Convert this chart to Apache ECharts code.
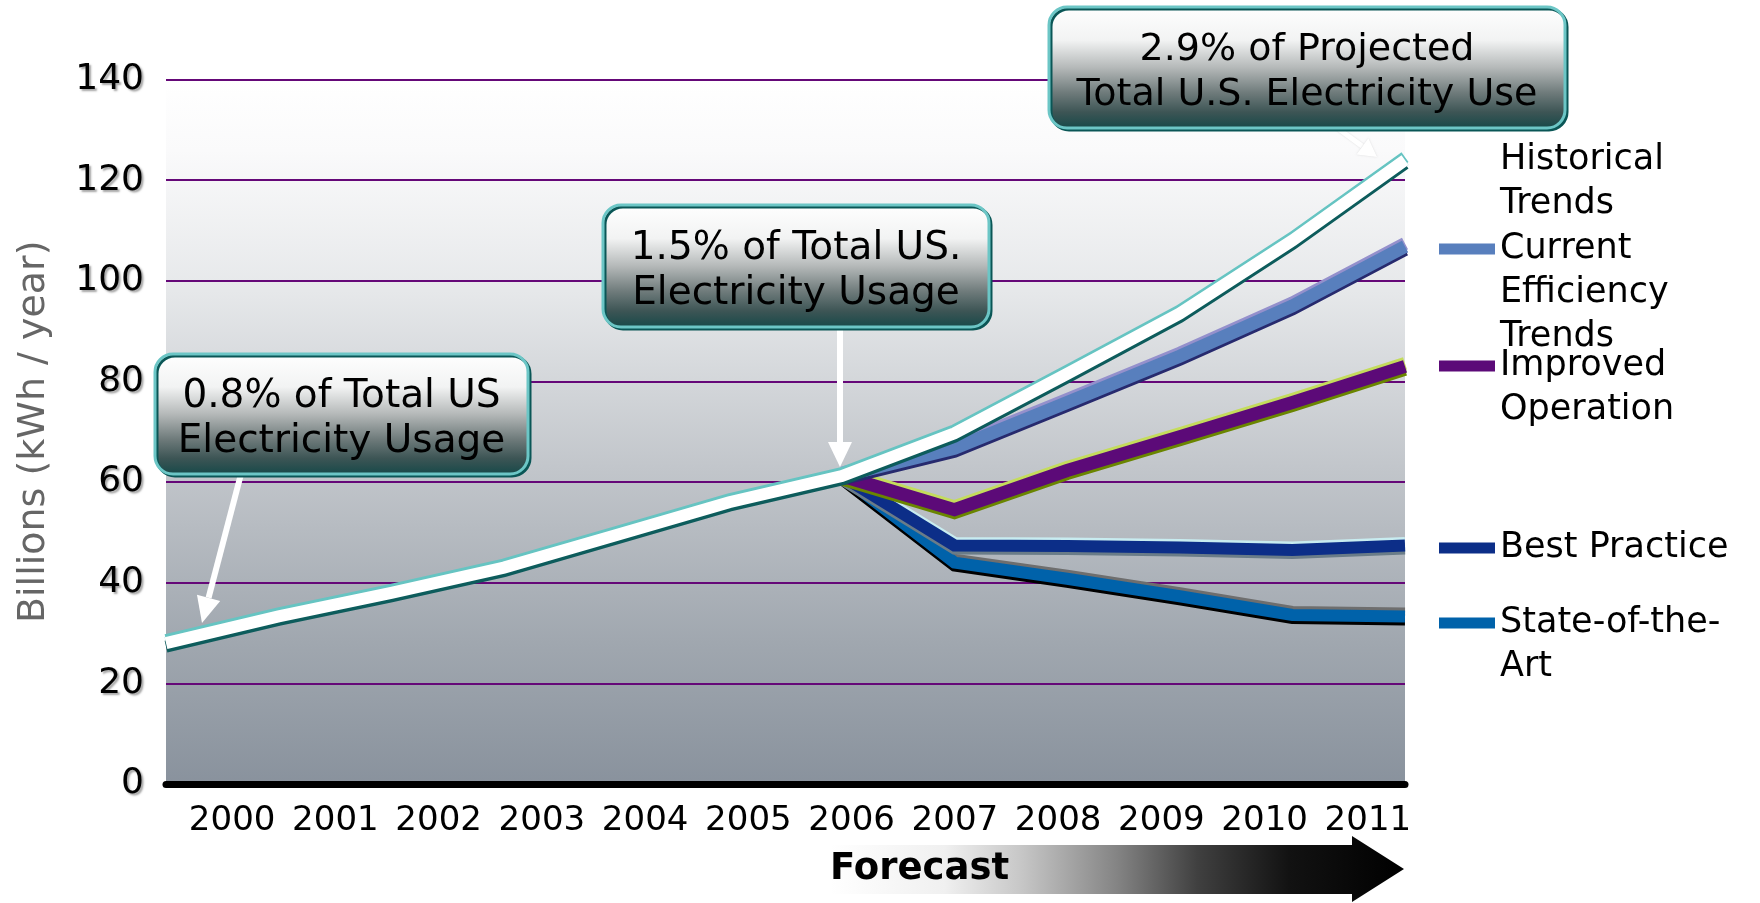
<!DOCTYPE html>
<html><head><meta charset="utf-8">
<script src="https://cdn.jsdelivr.net/npm/echarts@6/dist/echarts.min.js"></script>
<style>html,body{margin:0;padding:0;background:#fff;}#c{width:1760px;height:903px;}</style>
</head><body><div id="c"></div>
<script>
// ---- data ----
const years = ['2000','2001','2002','2003','2004','2005','2006','2007','2008','2009','2010','2011'];
const yTicks = [0, 20, 40, 60, 80, 100, 120, 140];
const historical = [28.0, 33.3, 38.0, 43.0, 49.5, 56.0, 61.2, 69.7, 81.5, 93.5, 108.0, 124.0];
const currentEff = [null, null, null, null, null, null, 61.2, 66.7, 75.8, 85.0, 95.0, 106.8];
const improvedOp = [null, null, null, null, null, null, 61.2, 54.5, 62.3, 69.0, 75.8, 83.0];
const bestPractice = [null, null, null, null, null, null, 61.2, 47.4, 47.3, 47.0, 46.5, 47.4];
const stateOfArt = [null, null, null, null, null, null, 61.2, 44.0, 40.8, 37.3, 33.6, 33.3];
const seriesNames = ['Historical Trends', 'Current Efficiency Trends', 'Improved Operation', 'Best Practice', 'State-of-the-Art'];
const legendLines = {
  'Historical Trends': ['Historical', 'Trends'],
  'Current Efficiency Trends': ['Current', 'Efficiency', 'Trends'],
  'Improved Operation': ['Improved', 'Operation'],
  'Best Practice': ['Best Practice'],
  'State-of-the-Art': ['State-of-the-', 'Art']
};
const notes = [
  ['0.8% of Total US', 'Electricity Usage'],
  ['1.5% of Total US.', 'Electricity Usage'],
  ['2.9% of Projected', 'Total U.S. Electricity Use']
];

const FONT = 'DejaVu Sans';
const chart = echarts.init(document.getElementById('c'), null, {renderer: 'canvas'});

const styles = {
  'Historical Trends':        {body: '#ffffff', top: '#66c4c2', bottom: '#0d5c5c', w: 12, up: 3, down: 3.5},
  'Current Efficiency Trends':{body: '#587fbd', top: '#9490cc', bottom: '#272a6e', w: 13, up: 3, down: 3},
  'Improved Operation':       {body: '#5c0a78', top: '#c4dc5c', bottom: '#6a8500', w: 13, up: 3, down: 3},
  'Best Practice':            {body: '#0c2e88', top: '#c8ecf0', bottom: '#6a7c88', w: 12, up: 2.5, down: 3},
  'State-of-the-Art':         {body: '#0062aa', top: '#6e6e6e', bottom: '#000000', w: 12, up: 3, down: 3}
};
const dataMap = {
  'Historical Trends': historical,
  'Current Efficiency Trends': currentEff,
  'Improved Operation': improvedOp,
  'Best Practice': bestPractice,
  'State-of-the-Art': stateOfArt
};

const series = [];
['State-of-the-Art', 'Best Practice', 'Improved Operation', 'Current Efficiency Trends', 'Historical Trends'].forEach(n => {
  const s = styles[n];
  series.push({
    type: 'line', name: n + ' edge', data: dataMap[n], xAxisIndex: 0, yAxisIndex: 0,
    symbol: 'none', silent: true, animation: false, connectNulls: false,
    lineStyle: {color: s.top, width: s.w, join: 'miter', shadowColor: s.top, shadowOffsetY: -s.up, shadowBlur: 0},
    itemStyle: {color: s.top}
  });
  series.push({
    type: 'line', name: n, data: dataMap[n], xAxisIndex: 0, yAxisIndex: 0,
    symbol: 'none', animation: false, connectNulls: false,
    color: s.body,
    lineStyle: {color: s.body, width: s.w, join: 'miter', shadowColor: s.bottom, shadowOffsetY: s.down, shadowBlur: 0},
    itemStyle: {color: s.body},
    emphasis: {disabled: true}
  });
});

// legends, one per item; blank leading lines keep the first text line level with the swatch
const LH = 44;
const legendFirstLineY = {
  'Historical Trends': 160,
  'Current Efficiency Trends': 249,
  'Improved Operation': 366,
  'Best Practice': 548,
  'State-of-the-Art': 623
};
const legends = seriesNames.map(n => {
  const k = legendLines[n].length;
  return {
    data: [n], left: 1439, top: legendFirstLineY[n] - (k - 0.5) * LH, padding: 0,
    orient: 'vertical', icon: 'rect', itemWidth: 56, itemHeight: 11, selectedMode: false,
    formatter: nm => {
      const ls = legendLines[nm];
      return new Array(ls.length - 1).fill('').concat(ls).join('\n');
    },
    textStyle: {fontFamily: FONT, fontSize: 35, lineHeight: LH, color: '#000'}
  };
});

function arrow(x1, y1, x2, y2, w, hl, hw, color, extra) {
  const dx = x2 - x1, dy = y2 - y1, L = Math.hypot(dx, dy), ux = dx / L, uy = dy / L, px = -uy, py = ux;
  const bx = x2 - ux * hl, by = y2 - uy * hl;
  return [
    {type: 'line', z: 100, shape: {x1: x1, y1: y1, x2: bx, y2: by}, style: Object.assign({stroke: color, lineWidth: w}, extra || {})},
    {type: 'polygon', z: 100, shape: {points: [[x2, y2], [bx + px * hw, by + py * hw], [bx - px * hw, by - py * hw]]}, style: Object.assign({fill: color}, extra || {})}
  ];
}
function box(x, y, w, h, lines, fs) {
  return [
    {type: 'rect', z: 101, shape: {x: x, y: y, width: w, height: h, r: 18},
     style: {
       fill: {type: 'linear', x: 0, y: 0, x2: 0, y2: 1, colorStops: [
         {offset: 0, color: '#ffffff'}, {offset: 0.28, color: '#f2f3f3'}, {offset: 0.5, color: '#b5b9b9'},
         {offset: 0.7, color: '#707c7c'}, {offset: 0.86, color: '#3d5555'}, {offset: 1, color: '#144848'}]},
       stroke: '#6cc6c6', lineWidth: 3, shadowColor: '#0a5656', shadowOffsetX: 2, shadowOffsetY: 2, shadowBlur: 0
     }},
    {type: 'text', z: 102, style: {text: lines.join('\n'), x: x + w / 2, y: y + h / 2 + 5, align: 'center', verticalAlign: 'middle',
      fontFamily: FONT, fontSize: fs, lineHeight: 45, fill: '#000'}}
  ];
}

const graphics = [].concat(
  arrow(241, 474, 202, 623, 6, 26, 12, '#ffffff'),
  arrow(840, 327, 840, 467, 6, 25, 12, '#ffffff'),
  arrow(1336, 127, 1377, 157, 5, 18, 10, '#ffffff', {shadowColor: 'rgba(0,0,0,0.12)', shadowBlur: 2}),
  box(155, 354, 373, 120, notes[0], 39),
  box(603, 205, 386, 122, notes[1], 39),
  box(1049, 7, 516, 121, notes[2], 38),
  [
    {type: 'polygon', z: 90,
     shape: {points: [[830, 845], [1352, 845], [1352, 836], [1404, 869], [1352, 902], [1352, 894], [830, 894]]},
     style: {fill: {type: 'linear', x: 0, y: 0, x2: 1, y2: 0, colorStops: [
       {offset: 0, color: '#ffffff'}, {offset: 0.2, color: '#f0f0f0'}, {offset: 0.33, color: '#c8c8c8'},
       {offset: 0.5, color: '#848484'}, {offset: 0.64, color: '#404040'}, {offset: 0.8, color: '#121212'}, {offset: 1, color: '#000000'}]}}},
    {type: 'text', z: 91, style: {text: 'Forecast', x: 830, y: 869, align: 'left', verticalAlign: 'middle',
      fontFamily: FONT, fontSize: 37, fontWeight: 'bold', fill: '#000'}}
  ]
);

chart.setOption({
  animation: false,
  textStyle: {fontFamily: FONT},
  grid: {
    left: 166, right: 355, top: 79.5, bottom: 119, show: true, borderWidth: 0,
    backgroundColor: {type: 'linear', x: 0, y: 0, x2: 0, y2: 1, colorStops: [
      {offset: 0, color: '#ffffff'}, {offset: 0.1, color: '#fafafb'}, {offset: 0.3, color: '#e6e8ea'},
      {offset: 0.55, color: '#c2c6cb'}, {offset: 0.8, color: '#a0a7af'}, {offset: 1, color: '#89929d'}]}
  },
  legend: legends,
  xAxis: [
    {type: 'category', data: years, boundaryGap: false, position: 'bottom',
     axisLine: {show: true, lineStyle: {color: '#000', width: 7}}, axisTick: {show: false}, axisLabel: {show: false}, splitLine: {show: false}},
    {type: 'category', data: years, boundaryGap: true, position: 'bottom',
     axisLine: {show: false}, axisTick: {show: false}, splitLine: {show: false},
     axisLabel: {show: true, interval: 0, margin: 20, color: '#000', fontSize: 34, fontFamily: FONT, padding: [0, 0, 0, 29]}}
  ],
  yAxis: {
    type: 'value', min: yTicks[0], max: yTicks[yTicks.length - 1], interval: yTicks[1] - yTicks[0],
    name: 'Billions (kWh / year)', nameLocation: 'middle', nameGap: 113,
    nameTextStyle: {fontSize: 38, color: '#666666', fontFamily: FONT},
    axisLine: {show: false}, axisTick: {show: false},
    axisLabel: {margin: 22, color: '#000', fontSize: 36, fontFamily: FONT,
      textShadowColor: 'rgba(0,0,0,0.35)', textShadowOffsetX: 2, textShadowOffsetY: 2, textShadowBlur: 2},
    splitLine: {show: true, lineStyle: {color: '#650878', width: 2}},
    splitArea: {show: false}
  },
  series: series,
  graphic: graphics
});
</script></body></html>
